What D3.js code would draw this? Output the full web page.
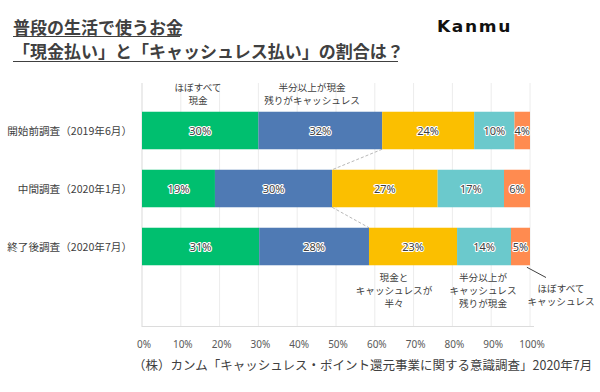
<!DOCTYPE html>
<html><head><meta charset="utf-8">
<script src="https://cdn.jsdelivr.net/npm/d3@7"></script>
<style>
html,body{margin:0;padding:0;background:#fff;}
svg{display:block;font-family:"Noto Sans CJK JP","Noto Sans",sans-serif;}
</style></head>
<body><svg id="c" width="600" height="392"></svg>
<script>
const categories = ["開始前調査（2019年6月）","中間調査（2020年1月）","終了後調査（2020年7月）"];
const seriesNames = ["ほぼすべて現金","半分以上が現金","半々","半分以上がキャッシュレス","ほぼすべてキャッシュレス"];
const allCash      = [30.0, 18.8, 30.2];
const mostlyCash   = [31.9, 30.2, 28.3];
const half         = [23.7, 27.2, 22.7];
const mostlyCless  = [10.4, 17.1, 13.9];
const allCless     = [4.0, 6.7, 4.9];
const labelsAllCash     = [30, 19, 31];
const labelsMostlyCash  = [32, 30, 28];
const labelsHalf        = [24, 27, 23];
const labelsMostlyCless = [10, 17, 14];
const labelsAllCless    = [4, 6, 5];
const tickValues = [0,10,20,30,40,50,60,70,80,90,100];
const colors = ["#00BF6F","#4F7AB4","#FBBF00","#6BC9CC","#FF8B50"];

const values = [allCash, mostlyCash, half, mostlyCless, allCless];
const labels = [labelsAllCash, labelsMostlyCash, labelsHalf, labelsMostlyCless, labelsAllCless];

const svg = d3.select("#c");
const x = d3.scaleLinear().domain([0,100]).range([142,530]);
const y = d3.scaleBand().domain(categories).range([101.5,275.5]).paddingInner(0.353).paddingOuter(0.1765);

// gridlines
svg.append("g").selectAll("line").data(tickValues).join("line")
  .attr("x1",d=>x(d)).attr("x2",d=>x(d)).attr("y1",83).attr("y2",327)
  .attr("stroke",d=>d===0?"#d9d9d9":"#ececec").attr("stroke-width",1);
svg.append("line").attr("x1",142).attr("x2",534).attr("y1",326.5).attr("y2",326.5).attr("stroke","#dcdcdc");

// stacked data
const rows = categories.map((c,i)=>{
  let acc=0;
  return values.map((s,k)=>{const v=s[i]; const seg={cat:c,k,x0:acc,x1:acc+v,label:labels[k][i]}; acc+=v; return seg;});
});

const g = svg.append("g");
rows.forEach(r=>{
  g.selectAll(null).data(r).join("rect")
    .attr("x",d=>x(d.x0)).attr("width",d=>x(d.x1)-x(d.x0))
    .attr("y",d=>y(d.cat)).attr("height",y.bandwidth())
    .attr("fill",d=>colors[d.k]);
  g.selectAll(null).data(r).join("text")
    .attr("x",d=>(x(d.x0)+x(d.x1))/2).attr("y",d=>y(d.cat)+y.bandwidth()/2+4)
    .attr("text-anchor","middle").attr("font-size",11).attr("font-family","Noto Sans, sans-serif")
    .attr("fill","#404040").attr("stroke","#fff").attr("stroke-width",2.2).attr("paint-order","stroke")
    .attr("stroke-linejoin","round")
    .text(d=>d.label+"%");
});

// dashed connectors between blue segment ends
for(let i=0;i<categories.length-1;i++){
  const a = rows[i][1].x1, b = rows[i+1][1].x1;
  svg.append("line")
    .attr("x1",x(a)).attr("y1",y(categories[i])+y.bandwidth())
    .attr("x2",x(b)).attr("y2",y(categories[i+1]))
    .attr("stroke","#a6a6a6").attr("stroke-dasharray","3,2").attr("stroke-width",0.8);
}

// category labels
svg.append("g").selectAll("text").data(categories).join("text")
  .attr("x",132).attr("y",d=>y(d)+y.bandwidth()/2+4)
  .attr("text-anchor","end").attr("font-size",10.6).attr("fill","#404040").text(d=>d);

// tick labels
svg.append("g").selectAll("text").data(tickValues).join("text")
  .attr("x",d=>x(d)+2).attr("y",348).attr("text-anchor","middle")
  .attr("font-size",10).attr("font-family","Noto Sans, sans-serif").attr("fill","#595959").text(d=>d+"%");

// annotations
function multi(lines,cx,cy0){
  lines.forEach((l,i)=>svg.append("text").attr("text-anchor","middle").attr("font-size",9.6)
    .attr("fill","#404040").attr("x",cx).attr("y",cy0+i*13.4).text(l));
}
multi(["ほぼすべて","現金"], 198, 90.5);
multi(["半分以上が現金","残りがキャッシュレス"], 312, 90.5);
multi(["現金と","キャッシュレスが","半々"], 394, 280.5);
multi(["半分以上が","キャッシュレス","残りが現金"], 483, 280.5);
multi(["ほぼすべて","キャッシュレス"], 561, 291.5);
svg.append("line").attr("x1",x(99.2)).attr("y1",y(categories[2])+y.bandwidth()+2)
  .attr("x2",546).attr("y2",277.5).attr("stroke","#404040").attr("stroke-width",1);

// title
svg.append("text").attr("x",13).attr("y",34).attr("font-size",17).attr("font-weight","bold").attr("fill","#404040").text("普段の生活で使うお金");
svg.append("text").attr("x",13).attr("y",58).attr("font-size",17).attr("font-weight","bold").attr("fill","#404040").text("「現金払い」と「キャッシュレス払い」の割合は？");
svg.append("line").attr("x1",13).attr("x2",180).attr("y1",36.5).attr("y2",36.5).attr("stroke","#404040").attr("stroke-width",1.2);
svg.append("line").attr("x1",13).attr("x2",398).attr("y1",61.5).attr("y2",61.5).attr("stroke","#404040").attr("stroke-width",1.2);

// logo
svg.append("text").attr("x",437).attr("y",32).attr("font-size",15.5).attr("font-weight","bold")
  .attr("font-family","DejaVu Sans, sans-serif").attr("fill","#111").attr("letter-spacing",1.5)
  .attr("textLength",75).attr("lengthAdjust","spacingAndGlyphs").text("Kanmu");

// source
svg.append("text").attr("x",133).attr("y",370).attr("font-size",12.5).attr("fill","#404040")
  .text("（株）カンム「キャッシュレス・ポイント還元事業に関する意識調査」2020年7月");
</script></body></html>
